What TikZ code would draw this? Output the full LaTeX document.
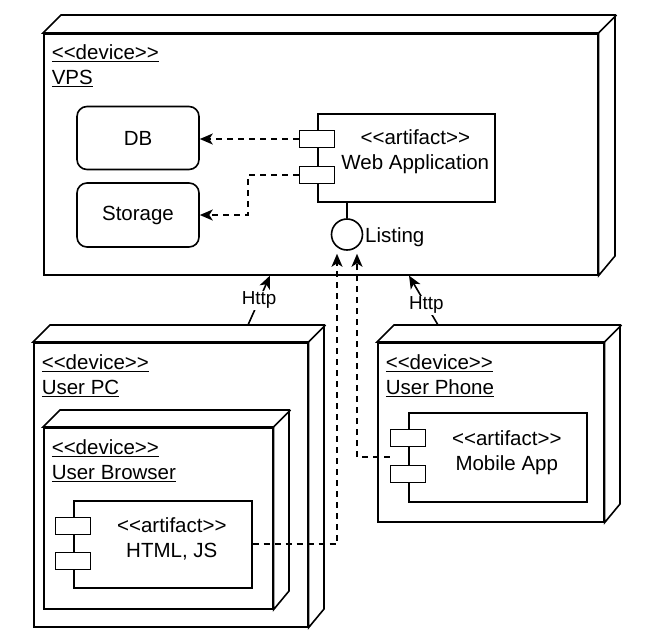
\documentclass[tikz,border=0pt]{standalone}
\usepackage{fontspec}
\setmainfont{Liberation Sans}
\usetikzlibrary{calc,arrows.meta}

\begin{document}
\begin{tikzpicture}[x=1pt,y=-1pt,line width=1.6pt,
  every node/.style={font=\fontsize{20.5}{25}\selectfont},
  face/.style={draw, fill=white, inner sep=0pt, anchor=north west},
  port/.style={draw, fill=white, inner sep=0pt, minimum width=35pt, minimum height=17pt},
  store/.style={draw, rounded corners=10pt, inner sep=0pt, minimum width=122pt, minimum height=63pt},
  devlabel/.style={anchor=north west, align=left, inner sep=0pt},
  dep/.style={line width=1.8pt, dash pattern=on 6pt off 5pt, -{Stealth[length=13pt,width=11pt,inset=3.5pt]}},
  http/.style={-{Stealth[length=13pt,width=11pt,inset=3.5pt]}},
  lbl/.style={fill=white, inner sep=1pt, font=\fontsize{18.8}{22}\selectfont}]
\useasboundingbox (0,0) rectangle (665,643);

% VPS
\node [face, minimum width=554pt, minimum height=241pt] (vps) at (43,33) {};
\draw [fill=white] (vps.north west) -- ++(18,-18) -- ++(554,0) -- ++(0,241) -- (vps.south east) -- (vps.north east) -- cycle;
\draw (vps.north east) -- ++(18,-18);
\node [devlabel] (vpslbl) at ($(vps.north west)+(8,11)$) {\underline{<{}<device>{}>}\\\underline{VPS}};

\node [store] (db) at (138,138) {DB};
\node [store, minimum height=64pt] (storage) at (138,215) {Storage};

\node [face, minimum width=177pt, minimum height=88pt] (webapp) at (317,113) {};
\node [align=center, inner sep=0pt] (webtxt) at ($(webapp.center)+(9,-6)$) {<{}<artifact>{}>\\Web Application};
\node [port] (wport1) at ($(webapp.north west)+(0,26)$) {};
\node [port] (wport2) at ($(webapp.north west)+(0,62)$) {};

\node [draw, circle, fill=white, minimum size=31pt, inner sep=0pt] (listing) at (347,234.5) {};
\node [right, inner sep=1pt, yshift=-3pt] (listinglbl) at (listing.east) {Listing};
\draw (webapp.south -| listing.north) -- (listing.north);

% User PC
\node [face, minimum width=274pt, minimum height=284pt] (pc) at (33,342) {};
\draw [fill=white] (pc.north west) -- ++(17,-17) -- ++(274,0) -- ++(0,284) -- (pc.south east) -- (pc.north east) -- cycle;
\draw (pc.north east) -- ++(17,-17);
\node [devlabel] (pclbl) at ($(pc.north west)+(8,11.5)$) {\underline{<{}<device>{}>}\\\underline{User PC}};

\node [face, minimum width=229pt, minimum height=181pt] (browser) at (43,427) {};
\draw [fill=white] (browser.north west) -- ++(17,-17) -- ++(229,0) -- ++(0,181) -- (browser.south east) -- (browser.north east) -- cycle;
\draw (browser.north east) -- ++(17,-17);
\node [devlabel] (browserlbl) at ($(browser.north west)+(8,11.5)$) {\underline{<{}<device>{}>}\\\underline{User Browser}};

\node [face, minimum width=178pt, minimum height=87pt] (html) at (73,500) {};
\node [align=center, inner sep=0pt] (htmltxt) at ($(html.center)+(9,-5)$) {<{}<artifact>{}>\\HTML, JS};
\node [port] (hport1) at ($(html.north west)+(0,26)$) {};
\node [port] (hport2) at ($(html.north west)+(0,61)$) {};

% User Phone
\node [face, minimum width=226pt, minimum height=179pt] (phone) at (377,342) {};
\draw [fill=white] (phone.north west) -- ++(17,-17) -- ++(226,0) -- ++(0,179) -- (phone.south east) -- (phone.north east) -- cycle;
\draw (phone.north east) -- ++(17,-17);
\node [devlabel] (phonelbl) at ($(phone.north west)+(8,11.5)$) {\underline{<{}<device>{}>}\\\underline{User Phone}};

\node [face, minimum width=178pt, minimum height=89pt] (mobile) at (408,412) {};
\node [align=center, inner sep=0pt] (mobiletxt) at ($(mobile.center)+(9,-5)$) {<{}<artifact>{}>\\Mobile App};
\node [port] (mport1) at ($(mobile.north west)+(0,26)$) {};
\node [port] (mport2) at ($(mobile.north west)+(0,62)$) {};

% dependencies
\draw [dep] (wport1.west) -- (wport1.west -| db.east);
\draw [dep] (wport2.west) -- ++(-51,0) |- (storage.east);
\draw [dep] (html.east) -| ($(listing.south)+(-10,3)$);
\draw [dep] (mport1.west |- mobile.west) -| ($(listing.south)+(10,3)$);

% links
\coordinate (pchttp) at ($(pc.north west)+(215,-17)$);
\coordinate (phonehttp) at ($(phone.north west)+(61,-17)$);
\draw [http] (pchttp) -- node [lbl, pos=0.5] {Http} ($(vps.south west)+(227,0)$);
\draw [http] (phonehttp) -- node [lbl, pos=0.4] {Http} ($(vps.south west)+(366,0)$);
\end{tikzpicture}
\end{document}
